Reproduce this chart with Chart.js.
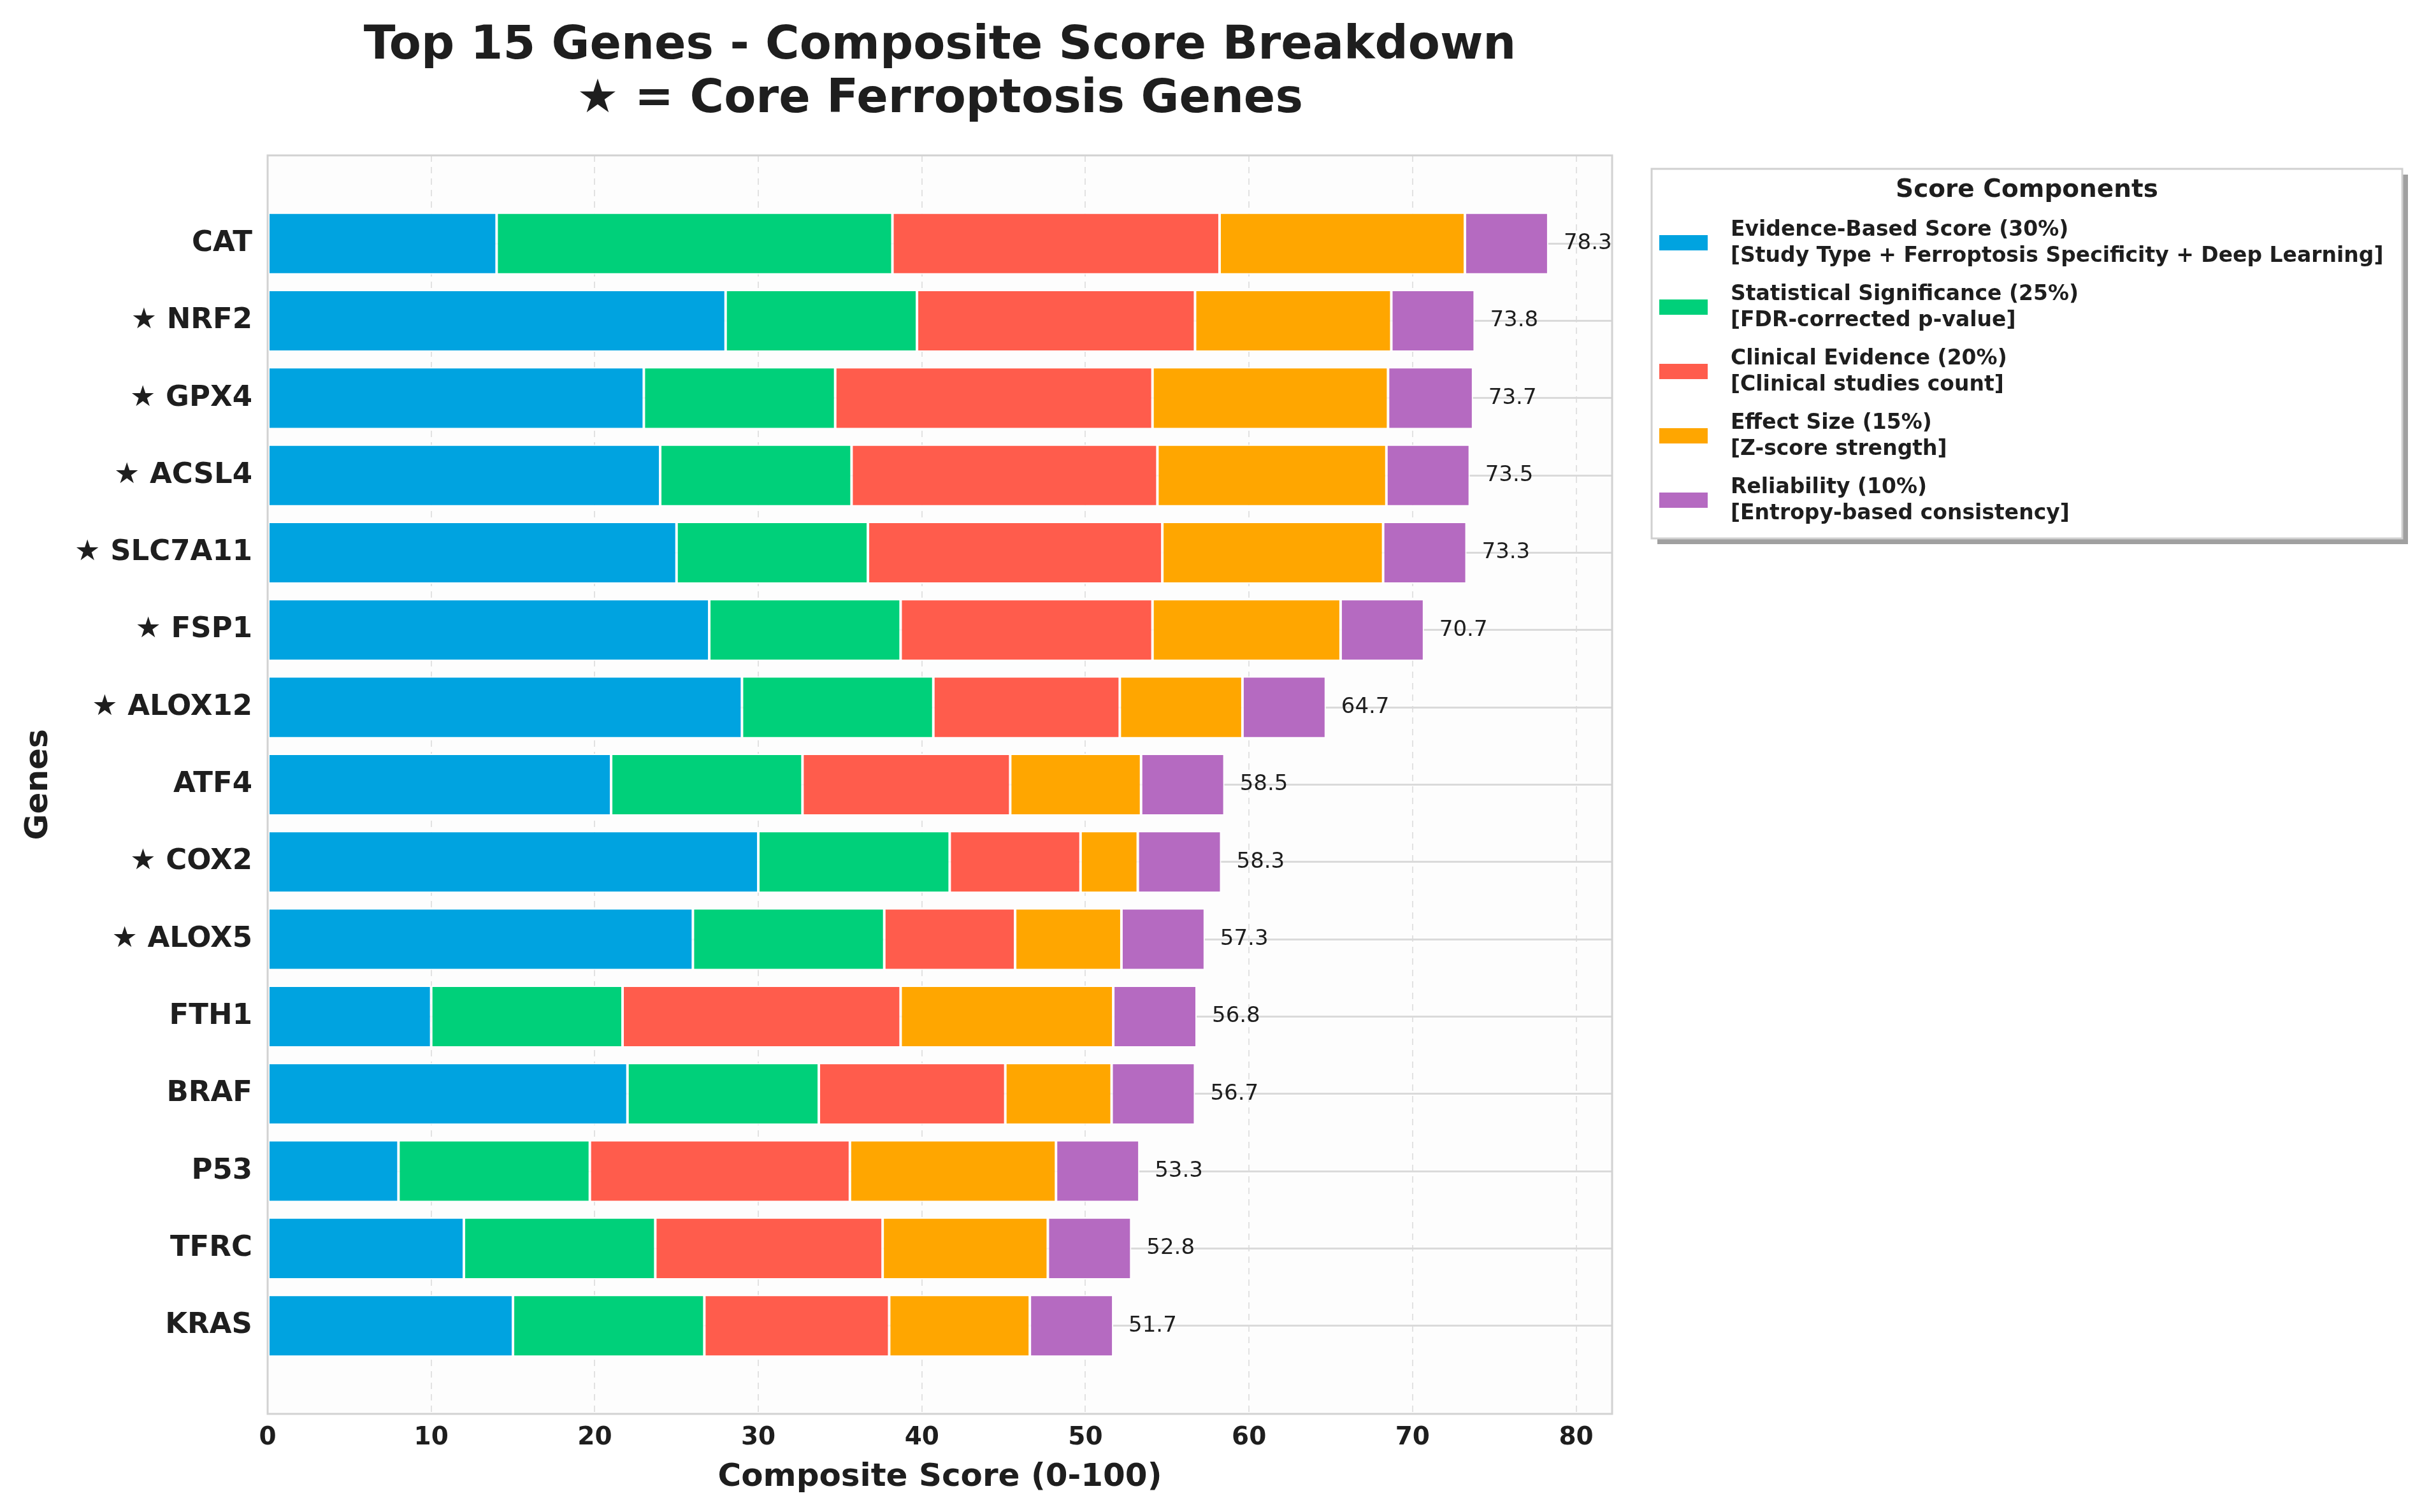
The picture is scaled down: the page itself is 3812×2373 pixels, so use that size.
<!DOCTYPE html>
<html>
<head>
<meta charset="utf-8">
<script src="https://cdn.jsdelivr.net/npm/chart.js@4.4.0/dist/chart.umd.min.js"></script>
<style>
  html, body { margin: 0; padding: 0; background: #fff; }
  #wrap { width: 3812px; height: 2373px; }
</style>
</head>
<body>
<div id="wrap"><canvas id="myScoreChart" width="3812" height="2373"></canvas></div>
<script>
// genes, top to bottom
let genes = ['CAT', '★ NRF2', '★ GPX4', '★ ACSL4', '★ SLC7A11', '★ FSP1', '★ ALOX12', 'ATF4',
    '★ COX2', '★ ALOX5', 'FTH1', 'BRAF', 'P53', 'TFRC', 'KRAS'];
let evidence = [14, 28, 23, 24, 25, 27, 29, 21, 30, 26, 10, 22, 8, 12, 15];
let significance = [24.2, 11.7, 11.7, 11.7, 11.7, 11.7, 11.7, 11.7, 11.7, 11.7, 11.7, 11.7, 11.7, 11.7, 11.7];
let clinical = [20.0, 17.0, 19.4, 18.7, 18.0, 15.4, 11.4, 12.7, 8.0, 8.0, 17.0, 11.4, 15.9, 13.9, 11.3];
let effect = [15.0, 12.0, 14.4, 14.0, 13.5, 11.5, 7.5, 8.0, 3.5, 6.5, 13.0, 6.5, 12.6, 10.1, 8.6];
let reliability = [5.1, 5.1, 5.2, 5.1, 5.1, 5.1, 5.1, 5.1, 5.1, 5.1, 5.1, 5.1, 5.1, 5.1, 5.1];

let componentNames = ['Evidence-Based Score (30%)', 'Statistical Significance (25%)',
    'Clinical Evidence (20%)', 'Effect Size (15%)', 'Reliability (10%)'];
let componentNotes = ['[Study Type + Ferroptosis Specificity + Deep Learning]', '[FDR-corrected p-value]',
    '[Clinical studies count]', '[Z-score strength]', '[Entropy-based consistency]'];
let colors = ['#00a3e0', '#00d07a', '#ff5c4c', '#ffa600', '#b56ac1'];

let font = "'DejaVu Sans', sans-serif";
let ink = '#1e1e1e';

let series = [evidence, significance, clinical, effect, reliability];
let totals = genes.map((g, i) => series.reduce((s, arr) => s + arr[i], 0));

// plot background + frame
const framePlugin = {
    id: 'frame',
    beforeDraw(chart) {
        let a = chart.chartArea, c = chart.ctx;
        c.save();
        c.fillStyle = '#fdfdfd';
        c.fillRect(a.left, a.top, a.right - a.left, a.bottom - a.top);
        c.restore();
    },
    afterDatasetsDraw(chart) {
        let a = chart.chartArea, c = chart.ctx;
        c.save();
        c.strokeStyle = '#d2d2d2';
        c.lineWidth = 3;
        c.strokeRect(a.left, a.top, a.right - a.left, a.bottom - a.top);
        c.restore();
    }
};

// total score at the end of each bar
const totalsPlugin = {
    id: 'totals',
    afterDatasetsDraw(chart) {
        let c = chart.ctx;
        let last = chart.getDatasetMeta(chart.data.datasets.length - 1);
        c.save();
        c.font = '500 34px ' + font;
        c.fillStyle = ink;
        c.textAlign = 'left';
        c.textBaseline = 'middle';
        last.data.forEach((bar, i) => {
            c.fillText(totals[i].toFixed(1), bar.x + 24, bar.y);
        });
        c.restore();
    }
};

// two-line legend box on the right
const boxLegend = {
    id: 'boxLegend',
    afterDraw(chart) {
        let c = chart.ctx;
        let x = 2592, y = 265, w = 1178, h = 580;
        c.save();
        c.fillStyle = '#a0a0a0';
        c.fillRect(x + 9, y + 9, w, h);
        c.fillStyle = '#ffffff';
        c.fillRect(x, y, w, h);
        c.strokeStyle = '#d0d0d0';
        c.lineWidth = 3;
        c.strokeRect(x, y, w, h);

        c.fillStyle = ink;
        c.textBaseline = 'middle';
        c.textAlign = 'center';
        c.font = 'bold 39px ' + font;
        c.fillText('Score Components', x + w / 2, 299);

        c.textAlign = 'left';
        c.font = 'bold 33px ' + font;
        componentNames.forEach((name, i) => {
            let ty = 361 + i * 101;
            c.fillStyle = colors[i];
            c.fillRect(2604, ty + 20 - 12, 76, 24);
            c.fillStyle = ink;
            c.fillText(name, 2716, ty);
            c.fillText(componentNotes[i], 2716, ty + 41);
        });
        c.restore();
    }
};

let ctx = document.getElementById('myScoreChart').getContext('2d');
let myScoreChart = new Chart(ctx, {
    type: 'bar',
    data: {
        datasets: series.map((arr, k) => ({
            label: componentNames[k],
            data: arr.map((v, i) => ({ x: v, y: i })),
            backgroundColor: colors[k],
            borderColor: '#ffffff',
            borderWidth: 2,
            borderSkipped: false,
            categoryPercentage: 1.0,
            barPercentage: 0.8,
        }))
    },
    options: {
        indexAxis: 'y',
        responsive: false,
        devicePixelRatio: 1,
        animation: false,
        layout: { padding: { left: 0, top: 0, right: 1282, bottom: 0 } },
        plugins: {
            legend: { display: false },
            tooltip: { enabled: false },
            title: {
                display: true,
                fullSize: false,
                text: ['Top 15 Genes - Composite Score Breakdown', '★ = Core Ferroptosis Genes'],
                color: ink,
                font: { family: font, size: 73, weight: 'bold', lineHeight: 1.15 },
                padding: { top: 31, bottom: 45 },
            },
        },
        scales: {
            x: {
                type: 'linear',
                stacked: true,
                min: 0,
                max: 82.2,
                ticks: {
                    stepSize: 10,
                    includeBounds: false,
                    color: ink,
                    padding: 14,
                    font: { family: font, size: 39, weight: 'bold' },
                },
                grid: { color: '#e2e2e2', lineWidth: 2, drawTicks: false },
                border: { display: false, dash: [10, 8] },
                title: {
                    display: true,
                    text: 'Composite Score (0-100)',
                    color: ink,
                    font: { family: font, size: 50, weight: 'bold', lineHeight: 1.2 },
                    padding: { top: 4, bottom: 24 },
                },
                afterFit: s => { s.height = 154; },
            },
            y: {
                type: 'linear',
                stacked: true,
                reverse: true,
                offset: false,
                min: -1.14,
                max: 15.14,
                afterBuildTicks: s => { s.ticks = genes.map((g, i) => ({ value: i })); },
                ticks: {
                    autoSkip: false,
                    color: ink,
                    padding: 24,
                    font: { family: font, size: 45, weight: 'bold' },
                    callback: v => genes[v],
                },
                grid: { color: '#dadada', lineWidth: 3, drawTicks: false, offset: false },
                border: { display: false },
                title: {
                    display: true,
                    text: 'Genes',
                    color: ink,
                    font: { family: font, size: 50, weight: 'bold', lineHeight: 1.2 },
                    padding: { top: 31, bottom: 0 },
                },
                afterFit: s => { s.width = 420; },
            },
        },
    },
    plugins: [framePlugin, totalsPlugin, boxLegend],
});
</script>
</body>
</html>
